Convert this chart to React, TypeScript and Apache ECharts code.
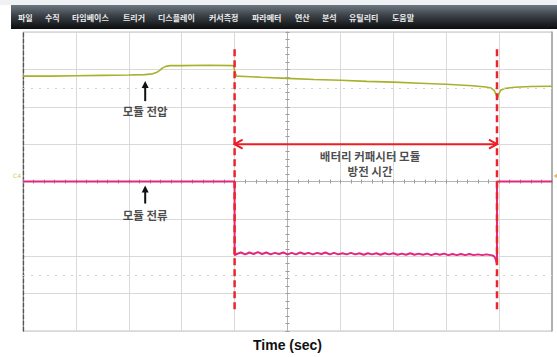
import { useEffect, useRef } from "react";
import * as echarts from "echarts";

// Menu bar of the scope software
const menuItems = ["파일", "수직", "타임베이스", "트리거", "디스플레이", "커서측정", "파라메터", "연산", "분석", "유틸리티", "도움말"];

// Screen range in divisions (10 horizontal x 8 vertical)
const xRange = [-5, 5];
const yRange = [-4, 4];

// Module voltage trace [time div, level div]
const voltage: [number, number][] = [
  [-5.0, 2.82], [-4.5, 2.82], [-4.0, 2.83], [-3.5, 2.84], [-3.0, 2.85], [-2.7, 2.86],
  [-2.55, 2.88], [-2.47, 2.92], [-2.41, 2.98], [-2.36, 3.04], [-2.3, 3.08], [-2.22, 3.1],
  [-2.0, 3.1], [-1.5, 3.11], [-1.02, 3.1], [-0.99, 2.9], [-0.96, 2.82], [-0.8, 2.81],
  [-0.5, 2.79], [0.0, 2.76], [0.5, 2.73], [1.0, 2.71], [1.5, 2.68], [2.0, 2.66],
  [2.5, 2.63], [3.0, 2.6], [3.5, 2.56], [3.75, 2.53], [3.85, 2.5], [3.91, 2.43],
  [3.95, 2.3], [3.97, 2.22], [3.99, 2.34], [4.03, 2.44], [4.1, 2.49], [4.3, 2.52],
  [4.6, 2.54], [5.0, 2.55],
];

// Module current trace [time div, level div]
const current: [number, number][] = [
  [-5.0, 0.0], [-3.0, 0.0], [-1.0, 0.0], [-1.0, -1.97],
  [-0.96, -1.94], [-0.88, -1.9], [-0.8, -1.95], [-0.72, -1.9], [-0.64, -1.94], [-0.56, -1.89],
  [-0.48, -1.94], [-0.4, -1.9], [-0.32, -1.95], [-0.24, -1.91], [-0.16, -1.94], [-0.08, -1.9],
  [0.0, -1.95], [0.08, -1.91], [0.16, -1.95], [0.24, -1.9], [0.32, -1.94], [0.4, -1.91],
  [0.48, -1.95], [0.56, -1.91], [0.64, -1.94], [0.72, -1.9], [0.8, -1.95], [0.88, -1.91],
  [0.96, -1.95], [1.04, -1.92], [1.12, -1.95], [1.2, -1.91], [1.28, -1.95], [1.36, -1.92],
  [1.44, -1.96], [1.52, -1.92], [1.6, -1.95], [1.68, -1.92], [1.76, -1.96], [1.84, -1.92],
  [1.92, -1.95], [2.0, -1.92], [2.08, -1.96], [2.16, -1.93], [2.24, -1.96], [2.32, -1.92],
  [2.4, -1.96], [2.48, -1.93], [2.56, -1.96], [2.64, -1.93], [2.72, -1.97], [2.8, -1.93],
  [2.88, -1.96], [2.96, -1.93], [3.04, -1.97], [3.12, -1.94], [3.2, -1.97], [3.28, -1.94],
  [3.36, -1.97], [3.44, -1.94], [3.52, -1.97], [3.6, -1.95], [3.68, -1.97], [3.76, -1.95],
  [3.84, -1.97], [3.88, -1.98], [3.91, -2.01], [3.93, -2.06], [3.95, -2.15], [3.96, -2.22],
  [3.96, 0.0], [4.3, 0.0], [5.0, 0.0],
];

// Discharge window markers
const dischargeStart = -1.0;
const dischargeEnd = 3.96;
const markerTop = 3.54;
const markerBottom = -3.51;

// Dotted cursor levels
const cursorLevels = [2.5, -2.5];

// Arrows: x1, y1, x2 (tip), y2 (tip), kind (0 = pointer, 1 = span)
const arrows: number[][] = [
  [-2.69, 2.15, -2.69, 2.69, 0],
  [-2.69, -0.59, -2.69, -0.11, 0],
  [dischargeStart, 1.0, dischargeEnd, 1.0, 1],
];

// Annotation texts
const notes = [
  { name: "모듈 전압", value: [-2.69, 1.89] },
  { name: "모듈 전류", value: [-2.69, -0.9] },
  { name: "배터리 커패시터 모듈\n방전 시간", value: [1.56, 0.49] },
];

const KR = '"Noto Sans CJK KR", "Noto Sans", sans-serif';

function buildMenu() {
  const items: any[] = [];
  const charW = 8;
  const gap = 11;
  let cursor = 18;
  menuItems.forEach((label) => {
    items.push({
      type: "text",
      x: cursor,
      y: 17,
      style: {
        text: label,
        fill: "#ececec",
        font: `bold 8px ${KR}`,
        verticalAlign: "middle",
        align: "left",
      },
    });
    cursor += label.length * charW + gap;
  });
  return items;
}

function renderArrow(_params: any, api: any) {
  const a = api.coord([api.value(0), api.value(1)]);
  const b = api.coord([api.value(2), api.value(3)]);
  const kind = api.value(4);
  const dx = b[0] - a[0];
  const dy = b[1] - a[1];
  const len = Math.sqrt(dx * dx + dy * dy) || 1;
  const ux = dx / len;
  const uy = dy / len;
  const nx = -uy;
  const ny = ux;
  if (kind === 0) {
    const hl = 7;
    const hw = 3.5;
    return {
      type: "group",
      children: [
        {
          type: "line",
          shape: { x1: a[0], y1: a[1], x2: b[0] - ux * hl * 0.6, y2: b[1] - uy * hl * 0.6 },
          style: { stroke: "#111", lineWidth: 2 },
        },
        {
          type: "polygon",
          shape: {
            points: [
              [b[0], b[1]],
              [b[0] - ux * hl + nx * hw, b[1] - uy * hl + ny * hw],
              [b[0] - ux * hl - nx * hw, b[1] - uy * hl - ny * hw],
            ],
          },
          style: { fill: "#111" },
        },
      ],
    };
  }
  const hl = 8;
  const hw = 4.5;
  const red = "#ee1c24";
  return {
    type: "group",
    children: [
      {
        type: "line",
        shape: { x1: a[0], y1: a[1], x2: b[0], y2: b[1] },
        style: { stroke: red, lineWidth: 2 },
      },
      {
        type: "polyline",
        shape: {
          points: [
            [b[0] - ux * hl + nx * hw, b[1] - uy * hl + ny * hw],
            [b[0], b[1]],
            [b[0] - ux * hl - nx * hw, b[1] - uy * hl - ny * hw],
          ],
        },
        style: { stroke: red, lineWidth: 2, fill: "none" },
      },
      {
        type: "polyline",
        shape: {
          points: [
            [a[0] + ux * hl + nx * hw, a[1] + uy * hl + ny * hw],
            [a[0], a[1]],
            [a[0] + ux * hl - nx * hw, a[1] + uy * hl - ny * hw],
          ],
        },
        style: { stroke: red, lineWidth: 2, fill: "none" },
      },
    ],
  };
}

function markerSeries(t: number) {
  return {
    type: "line",
    data: [
      [t, markerTop],
      [t, markerBottom],
    ],
    symbol: "none",
    silent: true,
    z: 5,
    lineStyle: { color: "#e8262c", width: 2.5, type: [7, 4] },
  };
}

const tickStyle = { color: "#9a9a9a", width: 1 };
const centerLine = { color: "#b4b4b4", width: 1 };

export default function App() {
  const ref = useRef<HTMLDivElement>(null);

  useEffect(() => {
    if (!ref.current) return;
    const chart = echarts.init(ref.current, null, { renderer: "svg" });
    chart.setOption({
      animation: false,
      backgroundColor: "#ffffff",
      grid: {
        left: 23,
        right: 5,
        top: 32,
        bottom: 24,
        show: true,
        borderColor: "#c2c2c2",
        borderWidth: 1,
      },
      graphic: [
        { type: "rect", shape: { x: 0, y: 0, width: 557, height: 5 }, style: { fill: "#eef2f5" }, z: 0 },
        {
          type: "rect",
          shape: { x: 11, y: 5, width: 546, height: 24 },
          style: {
            fill: new echarts.graphic.LinearGradient(0, 0, 0, 1, [
              { offset: 0, color: "#6e7881" },
              { offset: 0.45, color: "#3a4046" },
              { offset: 1, color: "#0c0d0e" },
            ]),
          },
          z: 1,
        },
        ...buildMenu().map((t) => ({ ...t, z: 2 })),
      ],
      xAxis: [
        {
          type: "value",
          min: xRange[0],
          max: xRange[1],
          interval: 1,
          position: "bottom",
          axisLine: { show: true, onZero: true, lineStyle: centerLine },
          axisTick: { show: true, length: 2, lineStyle: tickStyle },
          minorTick: { show: true, splitNumber: 5, length: 2, lineStyle: tickStyle },
          axisLabel: { show: false },
          splitLine: { show: true, lineStyle: { color: "#d9d9d9", width: 1 } },
        },
        {
          type: "value",
          min: xRange[0],
          max: xRange[1],
          position: "bottom",
          axisLine: { show: false, onZero: false },
          axisTick: { show: false },
          axisLabel: { show: false },
          splitLine: { show: false },
          name: "Time (sec)",
          nameLocation: "middle",
          nameGap: 7,
          nameTextStyle: {
            fontFamily: '"Liberation Sans", Arial, sans-serif',
            fontWeight: "bold",
            fontSize: 14,
            color: "#111111",
          },
        },
        {
          type: "value",
          min: xRange[0],
          max: xRange[1],
          interval: 1,
          position: "top",
          axisLine: { show: true, onZero: true, lineStyle: centerLine },
          axisTick: { show: true, length: 2, lineStyle: tickStyle },
          minorTick: { show: true, splitNumber: 5, length: 2, lineStyle: tickStyle },
          axisLabel: { show: false },
          splitLine: { show: false },
        },
      ],
      yAxis: [
        {
          type: "value",
          min: yRange[0],
          max: yRange[1],
          interval: 1,
          position: "left",
          axisLine: { show: true, onZero: true, lineStyle: centerLine },
          axisTick: { show: true, length: 2, lineStyle: tickStyle },
          minorTick: { show: true, splitNumber: 5, length: 2, lineStyle: tickStyle },
          axisLabel: { show: false },
          splitLine: { show: true, lineStyle: { color: "#d9d9d9", width: 1 } },
        },
        {
          type: "value",
          min: yRange[0],
          max: yRange[1],
          interval: 1,
          position: "right",
          axisLine: { show: true, onZero: true, lineStyle: centerLine },
          axisTick: { show: true, length: 2, lineStyle: tickStyle },
          minorTick: { show: true, splitNumber: 5, length: 2, lineStyle: tickStyle },
          axisLabel: { show: false },
          splitLine: { show: false },
        },
        {
          type: "value",
          min: yRange[0],
          max: yRange[1],
          position: "left",
          axisLine: { show: true, onZero: false, lineStyle: { color: "#555555", width: 1.3, type: [4, 2] } },
          axisTick: { show: false },
          axisLabel: { show: false },
          splitLine: { show: false },
        },
        {
          type: "value",
          min: yRange[0],
          max: yRange[1],
          position: "right",
          axisLine: { show: true, onZero: false, lineStyle: { color: "#a0a0a0", width: 1.5 } },
          axisTick: { show: false },
          axisLabel: { show: false },
          splitLine: { show: false },
        },
      ],
      series: [
        {
          type: "line",
          data: [],
          silent: true,
          markLine: {
            silent: true,
            symbol: "none",
            label: { show: false },
            lineStyle: { color: "#cfcfcf", width: 1, type: [2, 6] },
            data: cursorLevels.map((v) => ({ yAxis: v })),
          },
        },
        {
          name: "voltage",
          type: "line",
          data: voltage,
          symbol: "none",
          z: 3,
          lineStyle: { color: "#a9b02a", width: 1.6 },
        },
        {
          name: "current",
          type: "line",
          data: current,
          symbol: "none",
          z: 3,
          lineStyle: { color: "#e2287e", width: 2 },
        },
        markerSeries(dischargeStart),
        markerSeries(dischargeEnd),
        {
          type: "custom",
          renderItem: renderArrow,
          data: arrows,
          clip: false,
          silent: true,
          z: 6,
        },
        {
          type: "scatter",
          data: notes,
          symbolSize: 0,
          silent: true,
          z: 6,
          label: {
            show: true,
            position: "inside",
            formatter: (p: any) => p.name,
            fontFamily: KR,
            fontWeight: "bold",
            fontSize: 11.5,
            lineHeight: 15,
            color: "#1c1c1c",
          },
        },
        {
          type: "scatter",
          data: [[xRange[1], 0.15]],
          symbol: "triangle",
          symbolRotate: 90,
          symbolSize: [6, 5],
          symbolOffset: [4, 0],
          clip: false,
          silent: true,
          itemStyle: { color: "#d9a43a" },
        },
        {
          type: "scatter",
          data: [[xRange[0], 0.15]],
          symbolSize: 0,
          clip: false,
          silent: true,
          label: {
            show: true,
            position: "left",
            distance: 2,
            formatter: "C4",
            fontSize: 6,
            color: "#c3b22c",
            fontFamily: '"DejaVu Sans", sans-serif',
          },
        },
      ],
    });
    return () => chart.dispose();
  }, []);

  return (
    <div
      ref={ref}
      style={{ position: "fixed", left: 0, top: 0, width: 557, height: 357, background: "#ffffff" }}
    />
  );
}
